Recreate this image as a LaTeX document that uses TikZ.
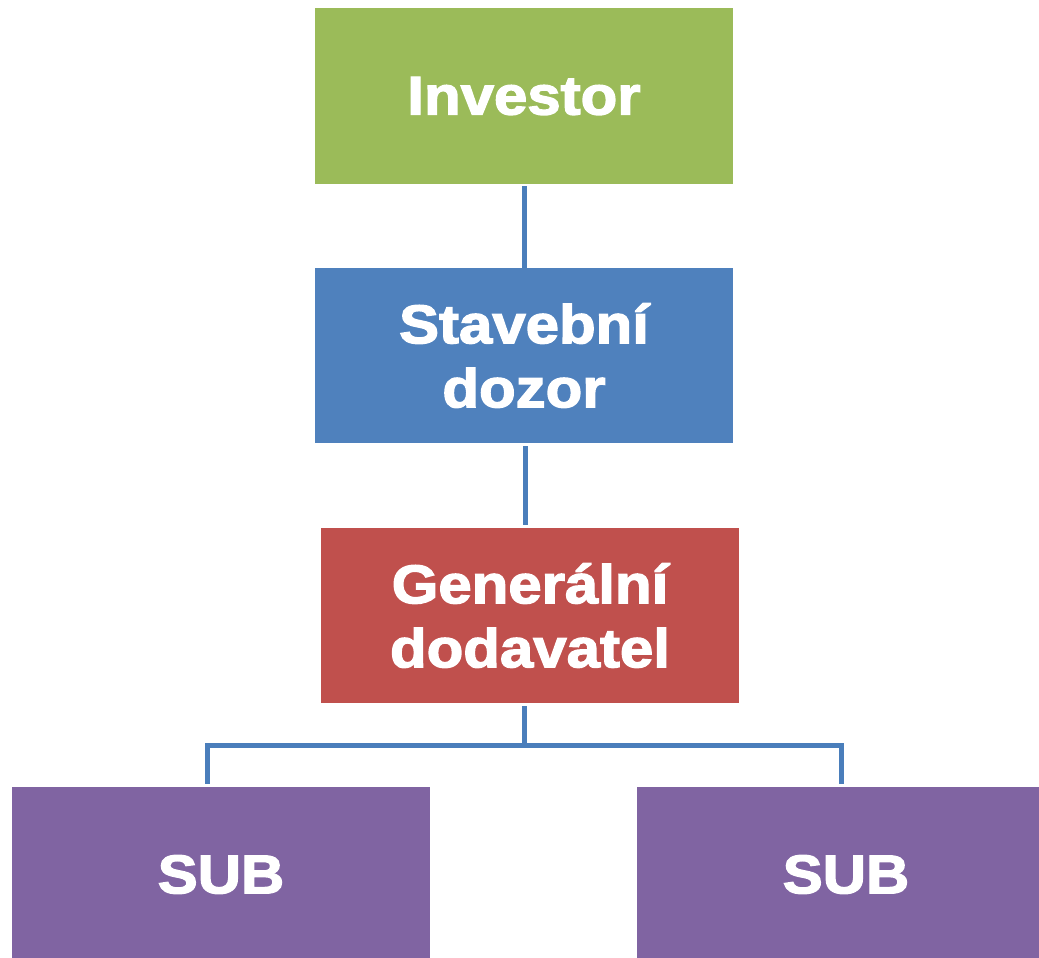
\documentclass[tikz,border=0pt]{standalone}
\usepackage{fontspec}
\newfontfamily\boxfont[FakeStretch=1.10,FakeBold=2.5]{Liberation Sans Bold}
\definecolor{cgreen}{HTML}{9BBB59}
\definecolor{cblue}{HTML}{4F81BD}
\definecolor{cred}{HTML}{C0504D}
\definecolor{cpurple}{HTML}{8064A2}
\definecolor{cline}{HTML}{4A7EBB}
\tikzset{
  orgbox/.style={rectangle, inner sep=0pt, minimum width=418pt, minimum height=175pt,
    text=white, align=center, font=\boxfont\fontsize{54.5pt}{64pt}\selectfont},
  link/.style={draw=cline, line width=5pt}
}
\begin{document}
\begin{tikzpicture}[x=1pt,y=-1pt]
\useasboundingbox (0,0) rectangle (1039,958);
\clip (0,0) rectangle (1039,958);
\node[orgbox, fill=cgreen, minimum height=176pt] (inv) at (524,96) {Investor};
\node[orgbox, fill=cblue] (sd) at (524,355.5) {Stavební\\dozor};
\node[orgbox, fill=cred] (gd) at (530,615.5) {Generální\\dodavatel};
\node[orgbox, fill=cpurple] (subl) at (221,874.5) {SUB};
\node[orgbox, fill=cpurple] (subr) at (846,874.5) {SUB};
\coordinate (top1) at ([yshift=-2pt]inv.south);
\coordinate (top2) at ([xshift=1.5pt,yshift=-3pt]sd.south);
\coordinate (top3) at ([xshift=-6pt,yshift=-3pt]gd.south);
\coordinate (junc) at (524,745.5);
\coordinate (endl) at ([xshift=-14pt,yshift=3pt]subl.north);
\coordinate (endr) at ([xshift=-5pt,yshift=3pt]subr.north);
\draw[link] (top1) -- (top1 |- sd.north) -- ++(0,-3);
\draw[link, shorten >=3pt] (top2) -- (top2 |- gd.north);
\draw[link] (top3) -- (junc);
\draw[link, line join=miter] (endl) -- (endl |- junc) -- (endr |- junc) -- (endr);
\end{tikzpicture}
\end{document}
